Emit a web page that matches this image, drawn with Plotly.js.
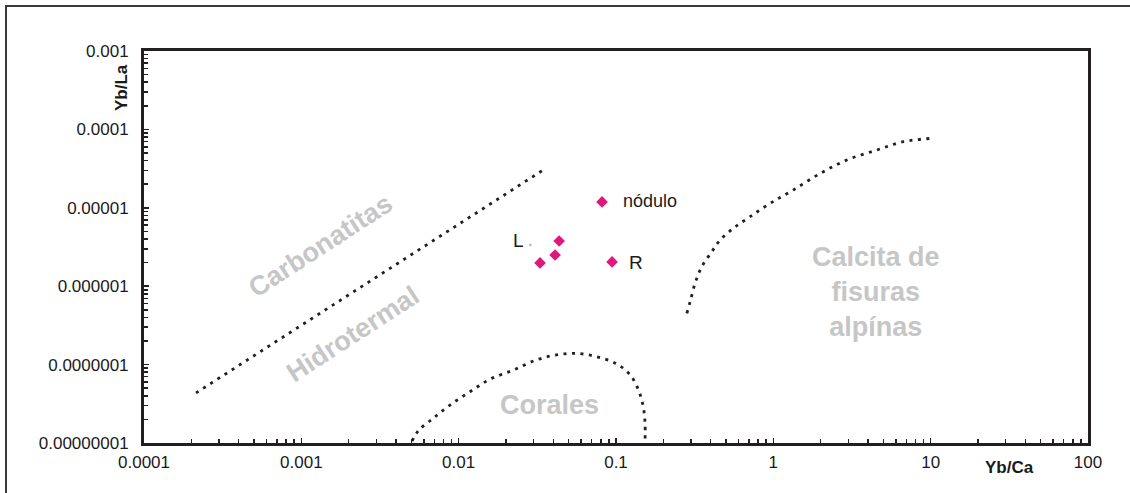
<!DOCTYPE html>
<html>
<head>
<meta charset="utf-8">
<script src="https://cdn.plot.ly/plotly-3.0.1.min.js"></script>
<style>
  html, body { margin: 0; padding: 0; background: #fff; }
  #wrap { position: relative; width: 1130px; height: 493px; }
  #chart { width: 1130px; height: 493px; }
  #frame { position: absolute; left: 5px; top: 5px; right: 0; bottom: 0;
           border-left: 2px solid #3a3a3a; border-top: 2px solid #3a3a3a; pointer-events: none; }
</style>
</head>
<body>
<div id="wrap"><div id="chart"></div><div id="frame"></div></div>
<script>
// ---- data ----
const xTickVals = [0.0001, 0.001, 0.01, 0.1, 1, 10, 100];
const xTickText = ['0.0001', '0.001', '0.01', '0.1', '1', '10', '100'];
const yTickVals = [1e-8, 1e-7, 1e-6, 1e-5, 1e-4, 1e-3];
const yTickText = ['0.00000001', '0.0000001', '0.000001', '0.00001', '0.0001', '0.001'];

// boundary: Carbonatitas / Hidrotermal
const carbX = [0.000214, 0.0344];
const carbY = [4.35e-8, 3.03e-5];

// boundary: Corales field
const coralX = [0.00506, 0.00555, 0.0069, 0.00881, 0.0118, 0.0158, 0.0223, 0.0313, 0.0421, 0.0564, 0.0755, 0.101, 0.123, 0.139, 0.149, 0.153, 0.153];
const coralY = [1.06e-8, 1.44e-8, 2.07e-8, 3.05e-8, 4.51e-8, 6.49e-8, 8.53e-8, 1.15e-7, 1.33e-7, 1.39e-7, 1.26e-7, 1.02e-7, 7.37e-8, 4.74e-8, 2.9e-8, 1.78e-8, 1.1e-8];

// boundary: Calcita de fisuras alpínas
const alpX = [0.282, 0.296, 0.318, 0.351, 0.406, 0.459, 0.557, 0.711, 0.955, 1.34, 1.99, 2.93, 4.55, 6.71, 10.2];
const alpY = [4.51e-7, 6.34e-7, 1.09e-6, 1.77e-6, 2.75e-6, 3.88e-6, 5.48e-6, 7.7e-6, 1.14e-5, 1.69e-5, 2.75e-5, 4.07e-5, 5.46e-5, 6.97e-5, 7.7e-5];

// samples
const sampleNames = ['nódulo', 'L1', 'L2', 'L3', 'R'];
const sampleX = [0.0815, 0.0435, 0.0410, 0.0329, 0.0944];
const sampleY = [1.19e-5, 3.77e-6, 2.50e-6, 1.98e-6, 2.04e-6];
const faintX = [0.0285];
const faintY = [3.36e-6];

// point labels
const labelText = ['nódulo', 'L', 'R'];
const labelX = [0.0815, 0.0329, 0.0944];
const labelY = [1.19e-5, 3.36e-6, 2.04e-6];
const labelShift = [[48, 1], [-22, 4], [24, -1]];

// region labels
const regionText = ['Carbonatitas', 'Hidrotermal', 'Corales', 'Calcita de<br>fisuras<br>alpínas'];

// ---- layout helpers (pixel -> paper) ----
const L = 144, R = 1088, T = 51, B = 443;
const px = v => (v - L) / (R - L);
const py = v => (B - v) / (B - T);

// minor ticks 2..9 x 10^k
function minors(lo, hi) {
  const out = [];
  for (let k = lo; k < hi; k++) for (let m = 2; m <= 9; m++) out.push(m * Math.pow(10, k));
  return out;
}

const dashLine = {color: '#231f20', width: 2.8, dash: '3px,5.5px'};
const traces = [
  {x: carbX, y: carbY, mode: 'lines', line: dashLine, hoverinfo: 'skip'},
  {x: coralX, y: coralY, mode: 'lines', line: Object.assign({shape: 'spline'}, dashLine), hoverinfo: 'skip'},
  {x: alpX, y: alpY, mode: 'lines', line: Object.assign({shape: 'spline'}, dashLine), hoverinfo: 'skip'},
  {x: sampleX, y: sampleY, text: sampleNames, mode: 'markers',
   marker: {symbol: 'diamond', size: 9, color: '#e0187c', line: {width: 0}}},
  {x: faintX, y: faintY, mode: 'markers', marker: {symbol: 'square', size: 2.5, color: '#f2a2c8'}}
];

const tickFont = {family: 'Liberation Sans, Arial, sans-serif', size: 17, color: '#1a1a1a'};
const axisCommon = {
  type: 'log', showgrid: false, zeroline: false,
  showline: true, linewidth: 3, linecolor: '#231f20', mirror: true,
  ticks: 'inside', ticklen: 5, tickwidth: 1.5, tickcolor: '#231f20',
  tickmode: 'array', tickfont: tickFont
};

const annotations = [];
labelText.forEach((t, i) => annotations.push({
  x: Math.log10(labelX[i]), y: Math.log10(labelY[i]), xref: 'x', yref: 'y',
  text: t, showarrow: false, xshift: labelShift[i][0], yshift: labelShift[i][1],
  xanchor: 'center', yanchor: 'middle',
  font: {family: 'Liberation Sans, Arial, sans-serif', size: i === 0 ? 18 : 19, color: '#1a1a1a'}
}));
const regionFont = {family: 'Liberation Sans, Arial, sans-serif', size: 27, color: '#c6c6c6', weight: 'bold'};
const regionPos = [[320, 246, -33], [353, 334, -33], [549, 405, 0], [876, 292, 0]];
regionText.forEach((t, i) => annotations.push({
  x: px(regionPos[i][0]), y: py(regionPos[i][1]), xref: 'paper', yref: 'paper',
  text: '<b>' + t + '</b>', showarrow: false, textangle: regionPos[i][2],
  font: regionFont, align: 'center', xanchor: 'center', yanchor: 'middle'
}));
// axis titles
annotations.push({x: px(122), y: py(88), xref: 'paper', yref: 'paper', text: '<b>Yb/La</b>',
  xanchor: 'center', yanchor: 'middle',
  showarrow: false, textangle: -90, font: {family: 'Liberation Sans, Arial, sans-serif', size: 17, color: '#1a1a1a'}});
annotations.push({x: px(1009), y: py(467), xref: 'paper', yref: 'paper', text: '<b>Yb/Ca</b>',
  xanchor: 'center', yanchor: 'middle',
  showarrow: false, font: {family: 'Liberation Sans, Arial, sans-serif', size: 17, color: '#1a1a1a'}});

const layout = {
  width: 1130, height: 493,
  margin: {l: L, r: 1130 - R, t: T, b: 493 - B},
  paper_bgcolor: '#ffffff', plot_bgcolor: '#ffffff',
  showlegend: false,
  xaxis: Object.assign({}, axisCommon, {
    range: [-4, 2], tickvals: xTickVals, ticktext: xTickText, ticklabelstandoff: 2,
    minor: {tickmode: 'array', tickvals: minors(-4, 2), ticks: 'inside', ticklen: 4, tickwidth: 1.5, tickcolor: '#231f20'}
  }),
  yaxis: Object.assign({}, axisCommon, {
    range: [-8, -3], tickvals: yTickVals, ticktext: yTickText, ticklabelstandoff: 9,
    minor: {tickmode: 'array', tickvals: minors(-8, -3), ticks: 'inside', ticklen: 4, tickwidth: 1.5, tickcolor: '#231f20'}
  }),
  annotations: annotations
};

Plotly.newPlot('chart', traces, layout, {displayModeBar: false, staticPlot: true});
</script>
</body>
</html>
